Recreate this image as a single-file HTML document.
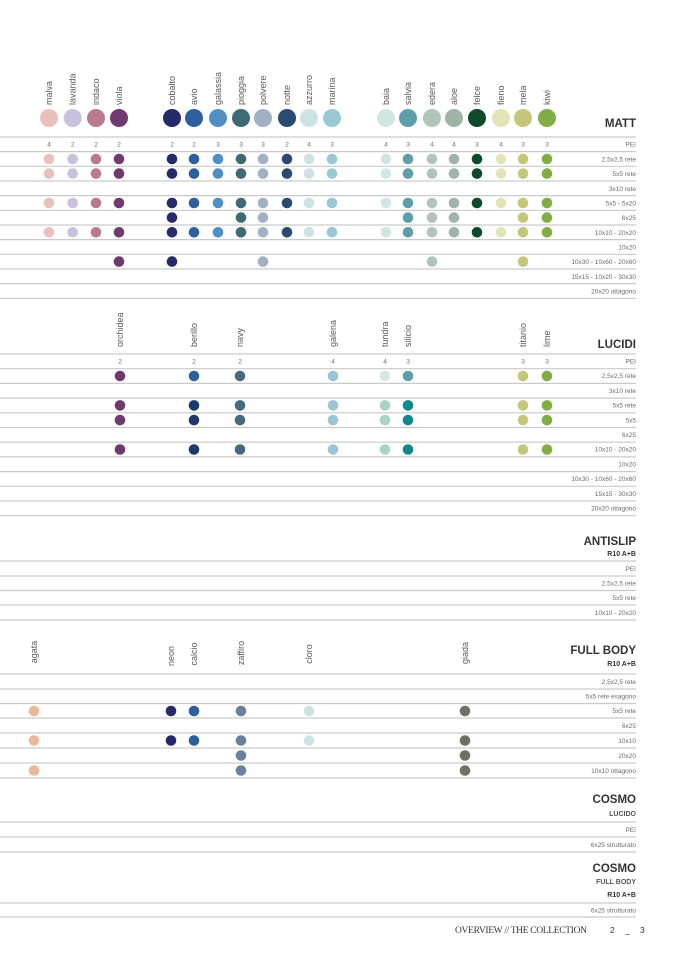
<!DOCTYPE html>
<html><head><meta charset="utf-8"><style>
html,body{margin:0;padding:0;background:#fff;}
svg{display:block;font-family:"Liberation Sans",sans-serif;}
.lb{font-size:9px;fill:#5a5a5a;}
.rl{font-size:6.5px;fill:#6a6a6a;text-anchor:end;}
.pe{font-size:6.5px;fill:#6a6a6a;text-anchor:middle;}
.ti{font-size:11.5px;font-weight:bold;fill:#333;text-anchor:end;}
.st{font-size:7px;font-weight:bold;fill:#333;text-anchor:end;}
.ln line{stroke:#c9c9c9;stroke-width:1.2;}
</style></head><body>
<svg width="678" height="959" viewBox="0 0 678 959" xmlns="http://www.w3.org/2000/svg">
<defs>
<g id="mr">
<circle cx="49" cy="0" r="5.3" fill="#eac0bc"/><circle cx="72.7" cy="0" r="5.3" fill="#c8c0dc"/><circle cx="96" cy="0" r="5.3" fill="#b87a8c"/><circle cx="119" cy="0" r="5.3" fill="#6e3a70"/>
<circle cx="172" cy="0" r="5.3" fill="#252a6a"/><circle cx="194" cy="0" r="5.3" fill="#2e5e9c"/><circle cx="218" cy="0" r="5.3" fill="#4f90c4"/><circle cx="241" cy="0" r="5.3" fill="#3e6a74"/><circle cx="263" cy="0" r="5.3" fill="#9fb1c2"/><circle cx="287" cy="0" r="5.3" fill="#2a4a72"/><circle cx="309" cy="0" r="5.3" fill="#cce2e4"/><circle cx="332" cy="0" r="5.3" fill="#98c8d4"/>
<circle cx="386" cy="0" r="5.3" fill="#cfe6e4"/><circle cx="408" cy="0" r="5.3" fill="#5e9ea8"/><circle cx="432" cy="0" r="5.3" fill="#b0c4b8"/><circle cx="454" cy="0" r="5.3" fill="#9fb4a8"/><circle cx="477" cy="0" r="5.3" fill="#0d4a2c"/><circle cx="501" cy="0" r="5.3" fill="#e2e4b8"/><circle cx="523" cy="0" r="5.3" fill="#c4c67a"/><circle cx="547" cy="0" r="5.3" fill="#80ae44"/>
</g>
<g id="lr">
<circle cx="120" cy="0" r="5.3" fill="#6e3a70"/><circle cx="194" cy="0" r="5.3" fill="#1e3a6c"/><circle cx="240" cy="0" r="5.3" fill="#456a80"/><circle cx="333" cy="0" r="5.3" fill="#9cc4d4"/><circle cx="385" cy="0" r="5.3" fill="#a8d4c8"/><circle cx="408" cy="0" r="5.3" fill="#0e8a8c"/><circle cx="523" cy="0" r="5.3" fill="#c4c67a"/><circle cx="547" cy="0" r="5.3" fill="#80ae44"/>
</g>
</defs>

<!-- MATT labels -->
<g class="lb">
<text transform="translate(52,105) rotate(-90)">malva</text>
<text transform="translate(75.7,105) rotate(-90)">lavanda</text>
<text transform="translate(99,105) rotate(-90)">indaco</text>
<text transform="translate(122,105) rotate(-90)">viola</text>
<text transform="translate(175,105) rotate(-90)">cobalto</text>
<text transform="translate(197,105) rotate(-90)">avio</text>
<text transform="translate(221,105) rotate(-90)">galassia</text>
<text transform="translate(244,105) rotate(-90)">pioggia</text>
<text transform="translate(266,105) rotate(-90)">polvere</text>
<text transform="translate(290,105) rotate(-90)">notte</text>
<text transform="translate(312,105) rotate(-90)">azzurro</text>
<text transform="translate(335,105) rotate(-90)">marina</text>
<text transform="translate(389,105) rotate(-90)">baia</text>
<text transform="translate(411,105) rotate(-90)">salvia</text>
<text transform="translate(435,105) rotate(-90)">edera</text>
<text transform="translate(457,105) rotate(-90)">aloe</text>
<text transform="translate(480,105) rotate(-90)">felce</text>
<text transform="translate(504,105) rotate(-90)">fieno</text>
<text transform="translate(526,105) rotate(-90)">mela</text>
<text transform="translate(550,105) rotate(-90)">kiwi</text>
</g>
<g>
<circle cx="49" cy="118" r="9" fill="#eac0bc"/><circle cx="72.7" cy="118" r="9" fill="#c8c0dc"/><circle cx="96" cy="118" r="9" fill="#b87a8c"/><circle cx="119" cy="118" r="9" fill="#6e3a70"/>
<circle cx="172" cy="118" r="9" fill="#252a6a"/><circle cx="194" cy="118" r="9" fill="#2e5e9c"/><circle cx="218" cy="118" r="9" fill="#4f90c4"/><circle cx="241" cy="118" r="9" fill="#3e6a74"/><circle cx="263" cy="118" r="9" fill="#9fb1c2"/><circle cx="287" cy="118" r="9" fill="#2a4a72"/><circle cx="309" cy="118" r="9" fill="#cce2e4"/><circle cx="332" cy="118" r="9" fill="#98c8d4"/>
<circle cx="386" cy="118" r="9" fill="#cfe6e4"/><circle cx="408" cy="118" r="9" fill="#5e9ea8"/><circle cx="432" cy="118" r="9" fill="#b0c4b8"/><circle cx="454" cy="118" r="9" fill="#9fb4a8"/><circle cx="477" cy="118" r="9" fill="#0d4a2c"/><circle cx="501" cy="118" r="9" fill="#e2e4b8"/><circle cx="523" cy="118" r="9" fill="#c4c67a"/><circle cx="547" cy="118" r="9" fill="#80ae44"/>
</g>
<text class="ti" x="636" y="127">MATT</text>
<g class="ln">
<line x1="0" x2="636" y1="137" y2="137"/><line x1="0" x2="636" y1="151.6" y2="151.6"/><line x1="0" x2="636" y1="166.3" y2="166.3"/><line x1="0" x2="636" y1="181" y2="181"/><line x1="0" x2="636" y1="195.6" y2="195.6"/><line x1="0" x2="636" y1="210.3" y2="210.3"/><line x1="0" x2="636" y1="225" y2="225"/><line x1="0" x2="636" y1="239.6" y2="239.6"/><line x1="0" x2="636" y1="254.3" y2="254.3"/><line x1="0" x2="636" y1="269" y2="269"/><line x1="0" x2="636" y1="283.6" y2="283.6"/><line x1="0" x2="636" y1="298.3" y2="298.3"/>
</g>
<g class="pe">
<text x="49" y="146.5">4</text><text x="72.7" y="146.5">2</text><text x="96" y="146.5">2</text><text x="119" y="146.5">2</text>
<text x="172" y="146.5">2</text><text x="194" y="146.5">2</text><text x="218" y="146.5">3</text><text x="241" y="146.5">3</text><text x="263" y="146.5">3</text><text x="287" y="146.5">2</text><text x="309" y="146.5">4</text><text x="332" y="146.5">3</text>
<text x="386" y="146.5">4</text><text x="408" y="146.5">3</text><text x="432" y="146.5">4</text><text x="454" y="146.5">4</text><text x="477" y="146.5">3</text><text x="501" y="146.5">4</text><text x="523" y="146.5">3</text><text x="547" y="146.5">3</text>
</g>
<use href="#mr" y="159"/><use href="#mr" y="173.6"/><use href="#mr" y="203"/><use href="#mr" y="232.3"/>
<g>
<circle cx="172" cy="217.6" r="5.3" fill="#252a6a"/><circle cx="241" cy="217.6" r="5.3" fill="#3e6a74"/><circle cx="263" cy="217.6" r="5.3" fill="#9fb1c2"/><circle cx="408" cy="217.6" r="5.3" fill="#5e9ea8"/><circle cx="432" cy="217.6" r="5.3" fill="#b0c4b8"/><circle cx="454" cy="217.6" r="5.3" fill="#9fb4a8"/><circle cx="523" cy="217.6" r="5.3" fill="#c4c67a"/><circle cx="547" cy="217.6" r="5.3" fill="#80ae44"/>
<circle cx="119" cy="261.6" r="5.3" fill="#6e3a70"/><circle cx="172" cy="261.6" r="5.3" fill="#252a6a"/><circle cx="263" cy="261.6" r="5.3" fill="#9fb1c2"/><circle cx="432" cy="261.6" r="5.3" fill="#b0c4b8"/><circle cx="523" cy="261.6" r="5.3" fill="#c4c67a"/>
</g>
<g class="rl">
<text x="636" y="146.5">PEI</text><text x="636" y="161.5">2,5x2,5 rete</text><text x="636" y="176">5x5 rete</text><text x="636" y="190.8">3x10 rete</text><text x="636" y="205.5">5x5 - 5x20</text><text x="636" y="220">6x25</text><text x="636" y="234.8">10x10 - 20x20</text><text x="636" y="249.5">10x20</text><text x="636" y="264">10x30 - 10x60 - 20x60</text><text x="636" y="278.8">15x15 - 10x20 - 30x30</text><text x="636" y="293.5">20x20 ottagono</text>
</g>

<!-- LUCIDI -->
<g class="lb">
<text transform="translate(123,347) rotate(-90)">orchidea</text>
<text transform="translate(197,347) rotate(-90)">berillo</text>
<text transform="translate(243,347) rotate(-90)">navy</text>
<text transform="translate(336,347) rotate(-90)">galena</text>
<text transform="translate(388,347) rotate(-90)">tundra</text>
<text transform="translate(411,347) rotate(-90)">silicio</text>
<text transform="translate(526,347) rotate(-90)">titanio</text>
<text transform="translate(550,347) rotate(-90)">lime</text>
</g>
<text class="ti" x="636" y="348">LUCIDI</text>
<g class="ln">
<line x1="0" x2="636" y1="354" y2="354"/><line x1="0" x2="636" y1="368.7" y2="368.7"/><line x1="0" x2="636" y1="383.4" y2="383.4"/><line x1="0" x2="636" y1="398.1" y2="398.1"/><line x1="0" x2="636" y1="412.8" y2="412.8"/><line x1="0" x2="636" y1="427.5" y2="427.5"/><line x1="0" x2="636" y1="442.2" y2="442.2"/><line x1="0" x2="636" y1="456.9" y2="456.9"/><line x1="0" x2="636" y1="471.6" y2="471.6"/><line x1="0" x2="636" y1="486.3" y2="486.3"/><line x1="0" x2="636" y1="501" y2="501"/><line x1="0" x2="636" y1="515.7" y2="515.7"/>
</g>
<g class="pe">
<text x="120" y="363.5">2</text><text x="194" y="363.5">2</text><text x="240" y="363.5">2</text><text x="333" y="363.5">4</text><text x="385" y="363.5">4</text><text x="408" y="363.5">3</text><text x="523" y="363.5">3</text><text x="547" y="363.5">3</text>
</g>
<g>
<circle cx="120" cy="376" r="5.3" fill="#6e3a70"/><circle cx="194" cy="376" r="5.3" fill="#2e5e9c"/><circle cx="240" cy="376" r="5.3" fill="#456a80"/><circle cx="333" cy="376" r="5.3" fill="#9cc4d4"/><circle cx="385" cy="376" r="5.3" fill="#d4e8e4"/><circle cx="408" cy="376" r="5.3" fill="#5e9ea8"/><circle cx="523" cy="376" r="5.3" fill="#c4c67a"/><circle cx="547" cy="376" r="5.3" fill="#80ae44"/>
</g>
<use href="#lr" y="405.4"/><use href="#lr" y="420.1"/><use href="#lr" y="449.5"/>
<g class="rl">
<text x="636" y="363.5">PEI</text><text x="636" y="378.2">2,5x2,5 rete</text><text x="636" y="392.9">3x10 rete</text><text x="636" y="407.6">5x5 rete</text><text x="636" y="422.3">5x5</text><text x="636" y="437">6x25</text><text x="636" y="451.7">10x10 - 20x20</text><text x="636" y="466.4">10x20</text><text x="636" y="481.1">10x30 - 10x60 - 20x60</text><text x="636" y="495.8">15x15 - 30x30</text><text x="636" y="510.5">20x20 ottagono</text>
</g>

<!-- ANTISLIP -->
<text class="ti" x="636" y="545">ANTISLIP</text>
<text class="st" x="636" y="556">R10 A+B</text>
<g class="ln">
<line x1="0" x2="636" y1="561" y2="561"/><line x1="0" x2="636" y1="576" y2="576"/><line x1="0" x2="636" y1="590.5" y2="590.5"/><line x1="0" x2="636" y1="605" y2="605"/><line x1="0" x2="636" y1="620" y2="620"/>
</g>
<g class="rl">
<text x="636" y="571">PEI</text><text x="636" y="585.5">2,5x2,5 rete</text><text x="636" y="600">5x5 rete</text><text x="636" y="615">10x10 - 20x20</text>
</g>

<!-- FULL BODY -->
<g class="lb" text-anchor="middle">
<text transform="translate(37,652) rotate(-90)">agata</text>
<text transform="translate(174,656) rotate(-90)">neon</text>
<text transform="translate(197,654) rotate(-90)">calcio</text>
<text transform="translate(244,653) rotate(-90)">zaffiro</text>
<text transform="translate(312,654) rotate(-90)">cloro</text>
<text transform="translate(468,653) rotate(-90)">giada</text>
</g>
<text class="ti" x="636" y="654">FULL BODY</text>
<text class="st" x="636" y="666">R10 A+B</text>
<g class="ln">
<line x1="0" x2="636" y1="674" y2="674"/><line x1="0" x2="636" y1="689" y2="689"/><line x1="0" x2="636" y1="703.5" y2="703.5"/><line x1="0" x2="636" y1="718" y2="718"/><line x1="0" x2="636" y1="733" y2="733"/><line x1="0" x2="636" y1="748" y2="748"/><line x1="0" x2="636" y1="763" y2="763"/><line x1="0" x2="636" y1="778" y2="778"/>
</g>
<g>
<circle cx="34" cy="711" r="5.3" fill="#e8b898"/><circle cx="171" cy="711" r="5.3" fill="#252a6a"/><circle cx="194" cy="711" r="5.3" fill="#2e5e9c"/><circle cx="241" cy="711" r="5.3" fill="#6a80a0"/><circle cx="309" cy="711" r="5.3" fill="#cce2e4"/><circle cx="465" cy="711" r="5.3" fill="#6e7264"/>
<circle cx="34" cy="740.5" r="5.3" fill="#e8b898"/><circle cx="171" cy="740.5" r="5.3" fill="#252a6a"/><circle cx="194" cy="740.5" r="5.3" fill="#2e5e9c"/><circle cx="241" cy="740.5" r="5.3" fill="#6a80a0"/><circle cx="309" cy="740.5" r="5.3" fill="#cce2e4"/><circle cx="465" cy="740.5" r="5.3" fill="#6e7264"/>
<circle cx="241" cy="755.5" r="5.3" fill="#6a80a0"/><circle cx="465" cy="755.5" r="5.3" fill="#6e7264"/>
<circle cx="34" cy="770.5" r="5.3" fill="#e8b898"/><circle cx="241" cy="770.5" r="5.3" fill="#6a80a0"/><circle cx="465" cy="770.5" r="5.3" fill="#6e7264"/>
</g>
<g class="rl">
<text x="636" y="684">2,5x2,5 rete</text><text x="636" y="698.5">5x5 rete esagono</text><text x="636" y="713">5x5 rete</text><text x="636" y="728">6x25</text><text x="636" y="743">10x10</text><text x="636" y="758">20x20</text><text x="636" y="773">10x10 ottagono</text>
</g>

<!-- COSMO -->
<text class="ti" x="636" y="803">COSMO</text>
<text class="st" x="636" y="816" style="fill:#555">LUCIDO</text>
<g class="ln">
<line x1="0" x2="636" y1="822" y2="822"/><line x1="0" x2="636" y1="837" y2="837"/><line x1="0" x2="636" y1="852" y2="852"/>
</g>
<g class="rl"><text x="636" y="832">PEI</text><text x="636" y="847">6x25 strutturato</text></g>

<text class="ti" x="636" y="872">COSMO</text>
<text class="st" x="636" y="884" style="fill:#555">FULL BODY</text>
<text class="st" x="636" y="897">R10 A+B</text>
<g class="ln">
<line x1="0" x2="636" y1="903" y2="903"/><line x1="0" x2="636" y1="917" y2="917"/>
</g>
<g class="rl"><text x="636" y="912.5">6x25 strutturato</text></g>

<text x="455" y="933" style="font-family:'Liberation Serif',serif;font-size:9.5px;fill:#333" textLength="132">OVERVIEW // THE COLLECTION</text>
<text x="610" y="933" style="font-size:8.5px;fill:#333">2</text>
<text x="625" y="933" style="font-size:8.5px;fill:#333">_</text>
<text x="640" y="933" style="font-size:8.5px;fill:#333">3</text>
</svg>
</body></html>
